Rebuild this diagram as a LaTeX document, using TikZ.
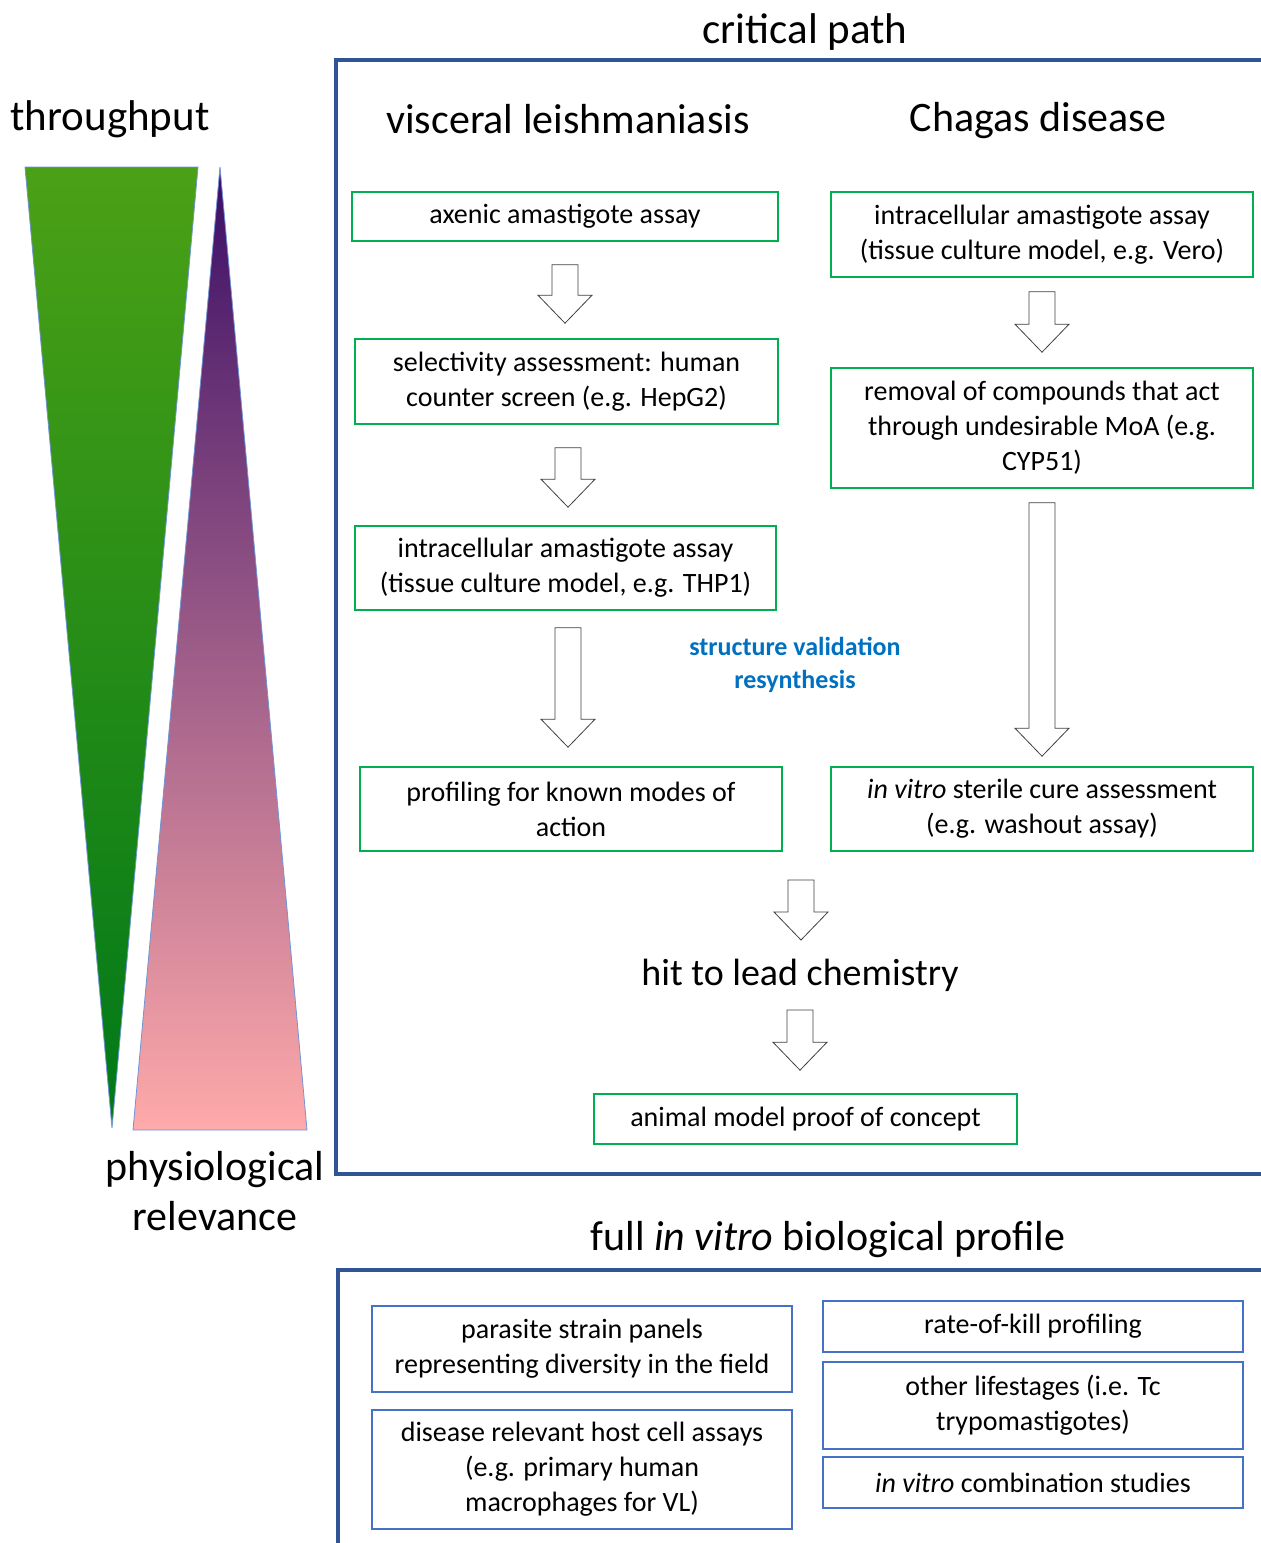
\documentclass[tikz,border=0pt]{standalone}
\usepackage{fontspec}
\setmainfont{Carlito}
\usetikzlibrary{calc}
\definecolor{boxgreen}{HTML}{00B050}
\definecolor{boxblue}{HTML}{4472C4}
\definecolor{frameblue}{HTML}{2F5597}
\definecolor{noteblue}{HTML}{0070C0}
\definecolor{triedge}{HTML}{6F94D8}
\definecolor{greentop}{HTML}{4BA116}
\definecolor{greenbot}{HTML}{007818}
\definecolor{purptop}{HTML}{3A0E66}
\definecolor{purpmid}{HTML}{B0668F}
\definecolor{pinkbot}{HTML}{FFAAAA}

% hollow block arrow pointing down, from top point #1 to tip #2
\newcommand{\blockdown}[2]{%
  \draw[blockarr] let \p1=(#1), \p2=(#2) in
    (\x1-13pt,\y1) -- (\x1+13pt,\y1) -- (\x1+13pt,\y2+28pt)
    -- (\x1+27pt,\y2+28pt) -- (\x1,\y2) -- (\x1-27pt,\y2+28pt)
    -- (\x1-13pt,\y2+28pt) -- cycle;}

\begin{document}
\begin{tikzpicture}[
x=1pt, y=-1pt,
box/.style={draw, line width=1.6pt, align=center, inner sep=0pt, font=\fontsize{28}{35}\selectfont},
critbox/.style={box, draw=boxgreen},
profbox/.style={box, draw=boxblue},
heading/.style={align=center, inner sep=0pt, font=\fontsize{42}{50}\selectfont},
note/.style={align=center, inner sep=0pt, text=noteblue, font=\fontsize{26}{33}\selectfont\bfseries},
frame/.style={draw=frameblue, line width=4pt},
blockarr/.style={draw=black!75, fill=white, line width=0.8pt, line join=miter}
]
\useasboundingbox (0,0) rectangle (1261,1543);

% Throughput / relevance wedges
\shadedraw[draw=triedge, line width=0.8pt, top color=greentop, bottom color=greenbot]
(25,167) -- (198,167) -- (112,1128) -- cycle;
\shadedraw[draw=triedge, line width=0.8pt, top color=purptop, middle color=purpmid, bottom color=pinkbot]
(220,167) -- (307,1130) -- (133,1130) -- cycle;
\node[heading, font=\fontsize{43}{50}\selectfont] (thru) at (110,119) {throughput};
\node[heading] (phys) at (215,1191) {physiological\\relevance};

% Critical path frame
\node[heading, font=\fontsize{43}{50}\selectfont] (crit) at (805,32) {critical path};
\draw[frame] (1265,60) -- (336,60) -- (336,1174) -- (1265,1174);
\node[heading] (vl) at (568,119) {visceral leishmaniasis};
\node[heading] (cd) at (1038,121) {Chagas disease};

% Visceral leishmaniasis column
\node[critbox, minimum width=426, minimum height=49] (b1) at (565,216.5) {axenic amastigote assay};
\node[critbox, minimum width=423, minimum height=85] (b2) at (566.5,381.5)
{selectivity assessment: human\\counter screen (e.g. HepG2)};
\node[critbox, minimum width=421, minimum height=84] (b3) at (565.5,568)
{intracellular amastigote assay\\(tissue culture model, e.g. THP1)};
\node[critbox, minimum width=422, minimum height=84] (b4) at (571,809)
{profiling for known modes of\\action};

% Chagas disease column
\node[critbox, minimum width=422, minimum height=85] (c1) at (1042,234.5)
{intracellular amastigote assay\\(tissue culture model, e.g. Vero)};
\node[critbox, minimum width=422, minimum height=120] (c2) at (1042,428)
{removal of compounds that act\\through undesirable MoA (e.g.\\CYP51)};
\node[critbox, minimum width=422, minimum height=84] (c3) at (1042,809)
{\textit{in vitro} sterile cure assessment\\(e.g. washout assay)};

\node[note] (sv) at (795,665) {structure validation\\resynthesis};

% Merge into lead chemistry
\node[heading, font=\fontsize{38}{44}\selectfont] (hit) at (800,975) {hit to lead chemistry};
\node[critbox, minimum width=423, minimum height=50] (anim) at (805.5,1119)
{animal model proof of concept};

% Block arrows
\coordinate (a1s) at ($(b1.south)+(0,23)$);
\coordinate (a1e) at ($(b2.north)+(0,-15)$);
\coordinate (a2s) at ($(b2.south)+(1.5,23)$);
\coordinate (a2e) at ($(b3.north)+(1.5,-18)$);
\coordinate (a3s) at ($(b3.south)+(2.5,17)$);
\coordinate (a3e) at ($(b4.north)+(-3,-19)$);
\coordinate (a4s) at ($(c1.south)+(0,14)$);
\coordinate (a4e) at ($(c2.north)+(0,-15)$);
\coordinate (a5s) at ($(c2.south)+(0,14)$);
\coordinate (a5e) at ($(c3.north)+(0,-10)$);
\coordinate (a6s) at (801,880);
\coordinate (a6e) at (801,940);
\coordinate (a7s) at (800,1010);
\coordinate (a7e) at ($(anim.north)+(-5.5,-23)$);
\blockdown{a1s}{a1e}
\blockdown{a2s}{a2e}
\blockdown{a3s}{a3e}
\blockdown{a4s}{a4e}
\blockdown{a5s}{a5e}
\blockdown{a6s}{a6e}
\blockdown{a7s}{a7e}

% Full biological profile frame
\node[heading] (full) at (828,1240) {full \textit{in vitro} biological profile};
\draw[frame] (1265,1270) -- (338,1270) -- (338,1547);

\node[profbox, minimum width=420, minimum height=86] (p1) at (582,1349)
{parasite strain panels\\representing diversity in the field};
\node[profbox, minimum width=420, minimum height=119] (p2) at (582,1469.5)
{disease relevant host cell assays\\(e.g. primary human\\macrophages for VL)};
\node[profbox, minimum width=420, minimum height=51] (p3) at (1033,1326.5)
{rate-of-kill profiling};
\node[profbox, minimum width=420, minimum height=87] (p4) at (1033,1405.5)
{other lifestages (i.e. Tc\\trypomastigotes)};
\node[profbox, minimum width=420, minimum height=51] (p5) at (1033,1482.5)
{\textit{in vitro} combination studies};

\end{tikzpicture}
\end{document}
